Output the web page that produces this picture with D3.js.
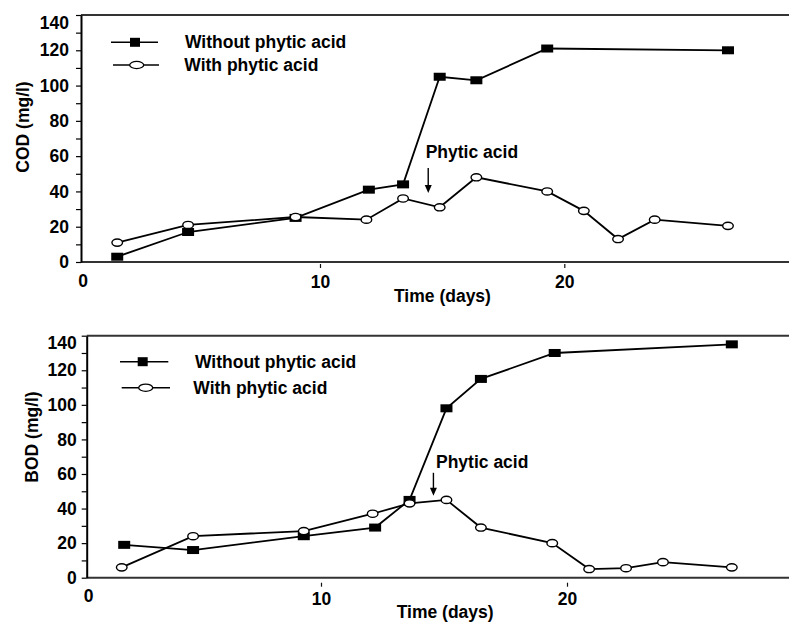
<!DOCTYPE html>
<html>
<head>
<meta charset="utf-8">
<script src="https://cdn.jsdelivr.net/npm/d3@7"></script>
<style>
  html, body { margin: 0; padding: 0; background: #fff; }
  svg { display: block; }
  text { font-family: "Liberation Sans", Arial, Helvetica, sans-serif; font-weight: bold; fill: #000; }
</style>
</head>
<body>
<svg id="chart" width="789" height="623"></svg>
<script>
// ---- data: COD panel ----
const codDaysWithout = [1.7, 4.6, 9.0, 12.0, 13.4, 14.9, 16.4, 19.3, 26.7];
const codWithout     = [3, 17, 25, 41, 44, 105, 103, 121, 120];
const codDaysWith    = [1.7, 4.6, 9.0, 11.9, 13.4, 14.9, 16.4, 19.3, 20.8, 22.2, 23.7, 26.7];
const codWith        = [11, 21, 25.5, 24, 36, 31, 48, 40, 29, 13, 24, 20.5];

// ---- data: BOD panel ----
const bodDaysWithout = [2.0, 4.8, 9.3, 12.2, 13.6, 15.1, 16.5, 19.5, 26.7];
const bodWithout     = [19, 16, 24, 29, 45, 98, 115, 130, 135];
const bodDaysWith    = [1.9, 4.8, 9.3, 12.1, 13.6, 15.1, 16.5, 19.4, 20.9, 22.4, 23.9, 26.7];
const bodWith        = [6, 24, 27, 37, 43, 45, 29, 20, 5, 5.5, 9, 6];

// ---- axis labels and legend ----
const xTickValues = [10, 20];
const yTickValues = [0, 10, 20, 30, 40, 50, 60, 70, 80, 90, 100, 110, 120, 130, 140];
const seriesNames = ["Without phytic acid", "With phytic acid"];
const xTitle = "Time (days)";
const annotation = "Phytic acid";

const FS = 17.5;
const svg = d3.select("#chart");

function panel(cfg) {
  const g = svg.append("g");
  const x = d3.scaleLinear().domain([0, 20]).range(cfg.xRange);
  const y = d3.scaleLinear().domain([0, 140]).range([cfg.bottom, cfg.top]);

  // frame: top rule and bottom axis run to the right edge
  g.append("line").attr("x1", cfg.left).attr("x2", 789)
    .attr("y1", cfg.top).attr("y2", cfg.top)
    .attr("stroke", "#333").attr("stroke-width", 2);

  // x axis
  const xa = g.append("g").attr("transform", `translate(0,${cfg.bottom})`)
    .call(d3.axisBottom(x).tickValues(xTickValues).tickSize(0).tickPadding(cfg.xPad).tickFormat(d3.format("d")));
  xa.select(".domain").remove();
  xa.selectAll("text").attr("font-size", FS).attr("fill", "#000");
  xa.selectAll(".tick").append("line")
    .attr("y1", cfg.xTickGap).attr("y2", cfg.xTickGap + 4)
    .attr("stroke", "#111").attr("stroke-width", 1.2);
  g.append("line").attr("x1", cfg.left).attr("x2", 789)
    .attr("y1", cfg.bottom).attr("y2", cfg.bottom)
    .attr("stroke", "#333").attr("stroke-width", 2);
  // origin label
  g.append("text").attr("x", cfg.left + 2).attr("y", cfg.bottom + cfg.originY)
    .attr("text-anchor", "middle").attr("font-size", FS).text("0");

  // y axis
  const ya = g.append("g").attr("transform", `translate(${cfg.left},0)`)
    .call(d3.axisLeft(y).tickValues(yTickValues).tickSize(5).tickSizeOuter(0)
      .tickPadding(cfg.yPad).tickFormat(d => d % 20 === 0 ? d : ""));
  ya.select(".domain").attr("stroke", "#000").attr("stroke-width", 2);
  ya.selectAll(".tick line").attr("stroke", "#000").attr("stroke-width", 1.2);
  ya.selectAll("text").attr("font-size", FS).attr("fill", "#000");
  ya.selectAll(".tick").filter(d => d === 140).select("text").attr("dy", "0.75em");

  // axis titles
  g.append("text")
    .attr("transform", `translate(${cfg.yTitleX},${cfg.yTitleY}) rotate(-90)`)
    .attr("text-anchor", "middle").attr("font-size", FS).text(cfg.yTitle);
  g.append("text").attr("x", cfg.xTitleX).attr("y", cfg.xTitleY)
    .attr("font-size", FS).text(xTitle);

  const line = d3.line().x(d => x(d[0])).y(d => y(d[1]));
  const withPts = cfg.daysWith.map((d, i) => [d, cfg.valsWith[i]]);
  const withoutPts = cfg.daysWithout.map((d, i) => [d, cfg.valsWithout[i]]);

  g.append("path").datum(withPts).attr("d", line)
    .attr("fill", "none").attr("stroke", "#000").attr("stroke-width", 1.8);
  g.append("path").datum(withoutPts).attr("d", line)
    .attr("fill", "none").attr("stroke", "#000").attr("stroke-width", 1.8);

  g.selectAll(".sq").data(withoutPts).enter().append("rect")
    .attr("x", d => x(d[0]) - 6).attr("y", d => y(d[1]) - 4)
    .attr("width", 12).attr("height", 8).attr("fill", "#000");
  g.selectAll(".ci").data(withPts).enter().append("ellipse")
    .attr("cx", d => x(d[0])).attr("cy", d => y(d[1]))
    .attr("rx", 5.3).attr("ry", 3.6)
    .attr("fill", "#fff").attr("stroke", "#000").attr("stroke-width", 1.4);

  // annotation arrow
  const ax = x(cfg.arrowDay);
  const ay1 = y(cfg.arrowFrom), ay2 = y(cfg.arrowTo);
  g.append("line").attr("x1", ax).attr("x2", ax).attr("y1", ay1).attr("y2", ay2 - 6)
    .attr("stroke", "#000").attr("stroke-width", 1.4);
  g.append("path")
    .attr("d", `M${ax - 3.5},${ay2 - 8} L${ax + 3.5},${ay2 - 8} L${ax},${ay2} Z`)
    .attr("fill", "#000");
  g.append("text").attr("x", cfg.labelX).attr("y", cfg.labelY)
    .attr("font-size", FS).text(annotation);

  // legend
  const lg = cfg.legend;
  const l1 = g.append("g");
  l1.append("line").attr("x1", lg.x1[0]).attr("x2", lg.x1[1]).attr("y1", lg.y1).attr("y2", lg.y1)
    .attr("stroke", "#000").attr("stroke-width", 1.4);
  l1.append("rect").attr("x", lg.m1 - 5).attr("y", lg.y1 - 4.5).attr("width", 10).attr("height", 9).attr("fill", "#000");
  l1.append("text").attr("x", lg.t1).attr("y", lg.y1 + 6).attr("font-size", FS).text(seriesNames[0]);
  const l2 = g.append("g");
  l2.append("line").attr("x1", lg.x2[0]).attr("x2", lg.x2[1]).attr("y1", lg.y2).attr("y2", lg.y2)
    .attr("stroke", "#000").attr("stroke-width", 1.4);
  l2.append("ellipse").attr("cx", lg.m2).attr("cy", lg.y2).attr("rx", 7).attr("ry", 3.6)
    .attr("fill", "#fff").attr("stroke", "#000").attr("stroke-width", 1.3);
  l2.append("text").attr("x", lg.t2).attr("y", lg.y2 + 6).attr("font-size", FS).text(seriesNames[1]);
}

panel({
  left: 81, top: 15, bottom: 262, xRange: [75.7, 564.3],
  xPad: 14, xTickGap: 2, yPad: 7, originY: 25,
  yTitle: "COD (mg/l)", yTitleX: 29, yTitleY: 127,
  xTitleX: 394, xTitleY: 302,
  daysWith: codDaysWith, valsWith: codWith,
  daysWithout: codDaysWithout, valsWithout: codWithout,
  arrowDay: 14.43, arrowFrom: 53.3, arrowTo: 39.1,
  labelX: 425.7, labelY: 158,
  legend: { x1: [111, 158], y1: 42.3, m1: 135, t1: 185,
            x2: [113, 159], y2: 65, m2: 136.7, t2: 184.3 }
});

panel({
  left: 86.7, top: 335.7, bottom: 577.7, xRange: [75, 567],
  xPad: 15, xTickGap: 5, yPad: 5, originY: 24,
  yTitle: "BOD (mg/l)", yTitleX: 38, yTitleY: 437,
  xTitleX: 396.7, xTitleY: 618,
  daysWith: bodDaysWith, valsWith: bodWith,
  daysWithout: bodDaysWithout, valsWithout: bodWithout,
  arrowDay: 14.57, arrowFrom: 60.7, arrowTo: 47.4,
  labelX: 436, labelY: 467.7,
  legend: { x1: [120, 168.3], y1: 361.7, m1: 142.7, t1: 195,
            x2: [121.7, 170], y2: 387.7, m2: 145.7, t2: 193.3 }
});
</script>
</body>
</html>
